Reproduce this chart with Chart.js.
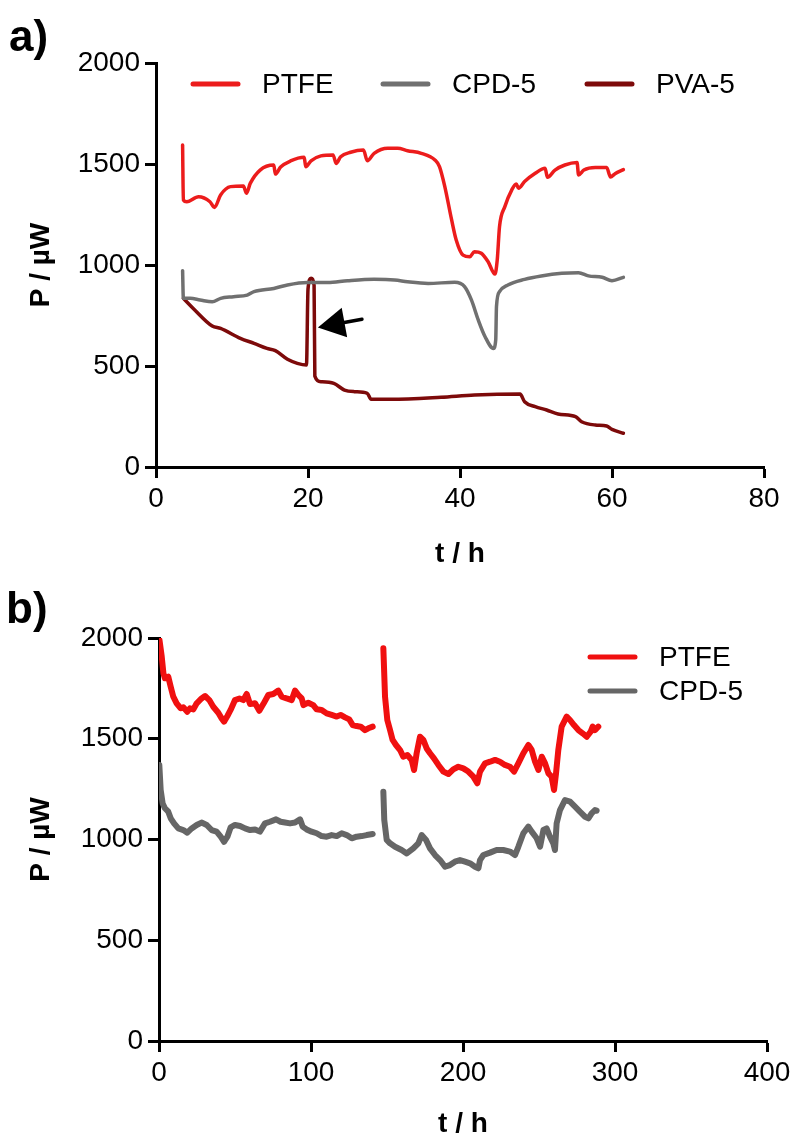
<!DOCTYPE html>
<html><head><meta charset="utf-8">
<script src="https://cdn.jsdelivr.net/npm/chart.js@4.4.1/dist/chart.umd.min.js"></script>
<style>
html,body{margin:0;padding:0;background:#fff;}
#wrap{position:relative;width:795px;height:1146px;overflow:hidden;}
#ca{position:absolute;left:0;top:0;}
#cb{position:absolute;left:0;top:580px;}
</style></head><body>
<div id="wrap"><canvas id="ca" width="795" height="580"></canvas><canvas id="cb" width="795" height="566"></canvas></div>
<script>
// ---------- Panel a data ----------
const xTicksA = [0, 20, 40, 60, 80];
const yTicks = [0, 500, 1000, 1500, 2000];
const ptfeA_t = [3.5,3.6,4.05,5.6,7.1,7.7,8.5,9.8,11.5,11.9,12.4,13.7,15.5,15.7,16.4,17.7,19.5,19.7,20.4,21.7,23.3,23.7,24.3,25.6,27.3,27.8,28.7,30.5,31.8,33.1,34.9,36.7,37.3,38.0,38.9,39.5,40.4,41.3,41.9,42.8,43.7,44.6,44.9,45.2,45.9,46.8,47.4,47.7,48.5,49.9,51.2,51.5,52.5,53.8,55.4,55.6,56.3,57.8,59.3,59.8,60.4,61.5];
const ptfeA_p = [1594,1322,1313,1338,1313,1285,1347,1388,1391,1355,1404,1470,1495,1450,1485,1515,1533,1487,1516,1540,1545,1503,1536,1558,1569,1516,1553,1578,1578,1566,1553,1520,1487,1388,1223,1124,1049,1041,1066,1058,1016,955,1025,1190,1289,1371,1401,1380,1413,1454,1479,1434,1470,1495,1507,1446,1470,1483,1483,1436,1452,1472];
const cpdA_t = [3.5,3.6,4.5,5.8,7.4,8.5,10.2,12,12.9,15.5,17.3,19.9,22.6,25.2,28.7,31.4,33.1,35.8,39.3,40.6,41.5,42.4,43.3,44.4,44.7,44.8,45.2,46.3,48.5,50.7,53.4,55.6,56.9,58.7,60,61.5];
const cpdA_p = [972,835,835,827,818,835,843,851,868,884,901,913,913,922,929,926,917,909,914,893,827,728,645,587,629,794,868,901,929,946,959,962,946,939,922,939];
const pvaA_t = [3.6,4.9,7.4,8.5,11.1,12.9,14.6,15.7,17.3,18.6,19.8,20.0,20.4,20.8,20.9,21.7,23.4,24.8,26.1,27.8,28.3,30.9,37.5,41.9,47.9,48.5,49.9,51.4,52.9,55.2,56.0,57.8,59.3,60.0,61.5];
const pvaA_p = [835,785,698,686,637,612,587,576,533,513,505,880,935,900,450,422,414,381,373,365,335,335,345,356,361,323,299,282,262,249,224,208,203,186,167];
const arrowTip = [21.3, 691];
const arrowTail = [27.1, 731];

// ---------- Panel b data ----------
const xTicksB = [0, 100, 200, 300, 400];
const ptfeB_t = [0.3,1.8,2.9,3.9,6.1,7.7,9.4,11.6,14.3,16,18.6,20.4,22.6,24.8,28,30.3,33.1,35.7,39,41.2,42.8,45,47.1,50,52.9,55.5,57.7,59.9,63.2,66,68.6,71.9,75.2,78.5,80.7,84,87.3,89.5,91.7,93.9,95,98.2,101.5,103.7,107,110.3,113.6,116.9,119.5,122.4,125.2,127.4,130,132.7,135.5,137.7,140.6,
  144,
  147.6,148.7,150.2,152,153.7,155.9,158.6,160.7,163.4,166.2,167.8,169.5,171.7,173.9,176.1,178.3,180.9,183.8,187.1,190.4,193.6,196.9,200.2,203.5,206.8,209.4,211.2,214.5,217.8,221.1,224.3,227.6,230.9,233.6,236.4,239.7,243,245.2,247.4,249.6,251.8,254,256.2,258.3,259.9,261.2,262.7,264.9,268.2,270.4,273,275.9,278.7,281.4,284,285.3,286.8,289];
const ptfeB_p = [1990,1907,1825,1800,1808,1758,1709,1676,1651,1656,1634,1651,1646,1676,1700,1712,1692,1659,1629,1601,1585,1613,1643,1692,1700,1692,1722,1672,1676,1639,1672,1717,1722,1739,1709,1700,1692,1739,1717,1700,1667,1679,1667,1646,1643,1626,1618,1610,1618,1606,1596,1568,1563,1560,1543,1552,1560,
  null,
  1949,1709,1593,1543,1494,1469,1444,1411,1419,1395,1345,1428,1510,1494,1452,1428,1403,1370,1337,1325,1348,1361,1353,1337,1312,1279,1337,1378,1386,1395,1386,1370,1361,1337,1378,1428,1469,1444,1386,1345,1411,1378,1328,1312,1246,1328,1444,1560,1610,1593,1568,1543,1527,1510,1535,1560,1543,1560];
const cpdB_t = [0.2,1.1,2.4,3.9,6.1,7.7,9.9,12.7,16,18.6,21.5,24.8,28,31.4,34.6,37.9,40.6,42.8,45,47.1,50,53.3,56.6,59.9,63.2,66.4,69.7,73,77,80,82.9,86.2,89.5,92.8,94.5,97.1,100.4,103.7,107,110.3,113.6,116.9,120.2,123.5,126.8,130,133.3,136.6,140.6,
  144,
  147.6,148.2,149.8,152,155.3,159.6,163,167.3,170.6,172.8,175.7,178.3,181.6,184.9,188.2,191.4,194.7,198,201.3,204.6,207.9,210.1,211.2,213.4,217.8,222.1,226.5,230.9,234.2,236.4,239.7,243,245.2,248.5,250.7,252.9,255,257.2,259.4,260.5,261.6,263.8,267.1,270.4,273.7,276.9,280.3,282.5,284.6,286.8,287.9];
const cpdB_p = [1370,1246,1179,1155,1138,1105,1080,1055,1047,1034,1055,1072,1084,1072,1047,1039,1014,989,1014,1060,1072,1067,1055,1047,1050,1039,1080,1088,1100,1088,1084,1080,1084,1100,1064,1050,1039,1031,1017,1014,1022,1017,1031,1022,1006,1014,1017,1022,1027,
  null,
  1237,1097,998,981,964,948,931,956,981,1022,998,956,923,898,865,873,890,898,890,882,865,857,898,923,935,948,948,940,923,964,1031,1064,1039,1006,964,1047,1055,1014,981,948,1080,1146,1196,1188,1163,1138,1113,1105,1130,1146,1143];

const FONT = '"Liberation Sans", Arial, Helvetica, sans-serif';
const pts = (ts, ps) => ts.map((t, i) => ({x: t, y: ps[i]}));

const decor = {
  id: 'decor',
  afterDraw(chart, args, o) {
    const ctx = chart.ctx;
    ctx.save();
    ctx.fillStyle = '#000';
    ctx.textAlign = 'left';
    ctx.textBaseline = 'alphabetic';
    ctx.font = 'bold 44px ' + FONT;
    ctx.fillText(o.panel, o.panelX, o.panelY);
    ctx.font = '28px ' + FONT;
    ctx.textBaseline = 'middle';
    o.legend.forEach((it, i) => {
      const ds = chart.data.datasets[i];
      ctx.strokeStyle = ds.borderColor;
      ctx.lineWidth = 5;
      ctx.lineCap = 'round';
      ctx.beginPath(); ctx.moveTo(it.x, it.y); ctx.lineTo(it.x + 45, it.y); ctx.stroke();
      ctx.fillStyle = '#000';
      ctx.fillText(ds.label, it.x + 69, it.y + 1);
    });
    if (o.arrow) {
      const xs = chart.scales.x, ys = chart.scales.y;
      const tx = xs.getPixelForValue(o.arrow.tip[0]), ty = ys.getPixelForValue(o.arrow.tip[1]);
      const sx = xs.getPixelForValue(o.arrow.tail[0]), sy = ys.getPixelForValue(o.arrow.tail[1]);
      const len = Math.hypot(tx - sx, ty - sy);
      const dx = (tx - sx) / len, dy = (ty - sy) / len;
      const bx = tx - dx * 27, by = ty - dy * 27;
      const nx = -dy, ny = dx;
      ctx.strokeStyle = '#000'; ctx.lineWidth = 3.5; ctx.lineCap = 'round';
      ctx.beginPath(); ctx.moveTo(sx, sy); ctx.lineTo(bx + dx * 3, by + dy * 3); ctx.stroke();
      ctx.fillStyle = '#000';
      ctx.beginPath(); ctx.moveTo(tx, ty); ctx.lineTo(bx + nx * 15, by + ny * 15); ctx.lineTo(bx - nx * 15, by - ny * 15); ctx.closePath(); ctx.fill();
    }
    ctx.restore();
  }
};

function axes(xTicks, xmax, yWidth, xHeight, xTitleBottom) {
  const common = {
    grid: {drawOnChartArea: false, drawTicks: true, tickLength: 11, tickWidth: 3, color: '#000', tickColor: '#000'},
    border: {display: true, width: 3, color: '#000'},
  };
  return {
    x: Object.assign({}, common, {
      type: 'linear', min: 0, max: xmax,
      afterBuildTicks: s => { s.ticks = xTicks.map(v => ({value: v})); },
      ticks: {color: '#000', font: {size: 28, family: FONT}, padding: 4, maxRotation: 0, autoSkip: false, callback: v => String(v)},
      title: {display: true, text: 't / h', color: '#000', font: {size: 28, weight: 'bold', family: FONT}, padding: {top: 0, bottom: xTitleBottom}},
      afterFit: s => { s.height = xHeight; }
    }),
    y: Object.assign({}, common, {
      type: 'linear', min: 0, max: 2000,
      afterBuildTicks: s => { s.ticks = yTicks.map(v => ({value: v})); },
      ticks: {color: '#000', font: {size: 28, family: FONT}, padding: 5, callback: v => String(v)},
      title: {display: true, text: 'P / µW', color: '#000', font: {size: 28, weight: 'bold', family: FONT}, padding: {top: 24, bottom: 0}},
      afterFit: s => { s.width = yWidth; }
    })
  };
}

const lineA = {pointRadius: 0, borderWidth: 3.5, fill: false, cubicInterpolationMode: 'monotone', borderJoinStyle: 'round', borderCapStyle: 'round'};
new Chart(document.getElementById('ca'), {
  type: 'line',
  data: {datasets: [
    Object.assign({label: 'PTFE', data: pts(ptfeA_t, ptfeA_p), borderColor: '#ec1c1c'}, lineA),
    Object.assign({label: 'CPD-5', data: pts(cpdA_t, cpdA_p), borderColor: '#707070'}, lineA),
    Object.assign({label: 'PVA-5', data: pts(pvaA_t, pvaA_p), borderColor: '#7d0a0a'}, lineA)
  ]},
  options: {
    responsive: false, animation: false, devicePixelRatio: 1,
    layout: {padding: {left: 0, top: 63, right: 31, bottom: 0}},
    plugins: {legend: {display: false}, tooltip: {enabled: false},
      decor: {panel: 'a)', panelX: 9, panelY: 51,
        legend: [{x: 193, y: 84}, {x: 383, y: 84}, {x: 587, y: 84}],
        arrow: {tip: arrowTip, tail: arrowTail}}},
    scales: axes(xTicksA, 80, 156, 113, 9)
  },
  plugins: [decor]
});

const lineB = {pointRadius: 0, borderWidth: 6, fill: false, tension: 0, spanGaps: false, borderJoinStyle: 'round', borderCapStyle: 'round'};
new Chart(document.getElementById('cb'), {
  type: 'line',
  data: {datasets: [
    Object.assign({label: 'PTFE', data: pts(ptfeB_t, ptfeB_p), borderColor: '#f01010'}, lineB),
    Object.assign({label: 'CPD-5', data: pts(cpdB_t, cpdB_p), borderColor: '#666666'}, lineB)
  ]},
  options: {
    responsive: false, animation: false, devicePixelRatio: 1,
    layout: {padding: {left: 0, top: 58, right: 28, bottom: 0}},
    plugins: {legend: {display: false}, tooltip: {enabled: false},
      decor: {panel: 'b)', panelX: 6, panelY: 43,
        legend: [{x: 590, y: 77}, {x: 590, y: 111}]}},
    scales: axes(xTicksB, 400, 159, 105, 5)
  },
  plugins: [decor]
});
</script>
</body></html>
